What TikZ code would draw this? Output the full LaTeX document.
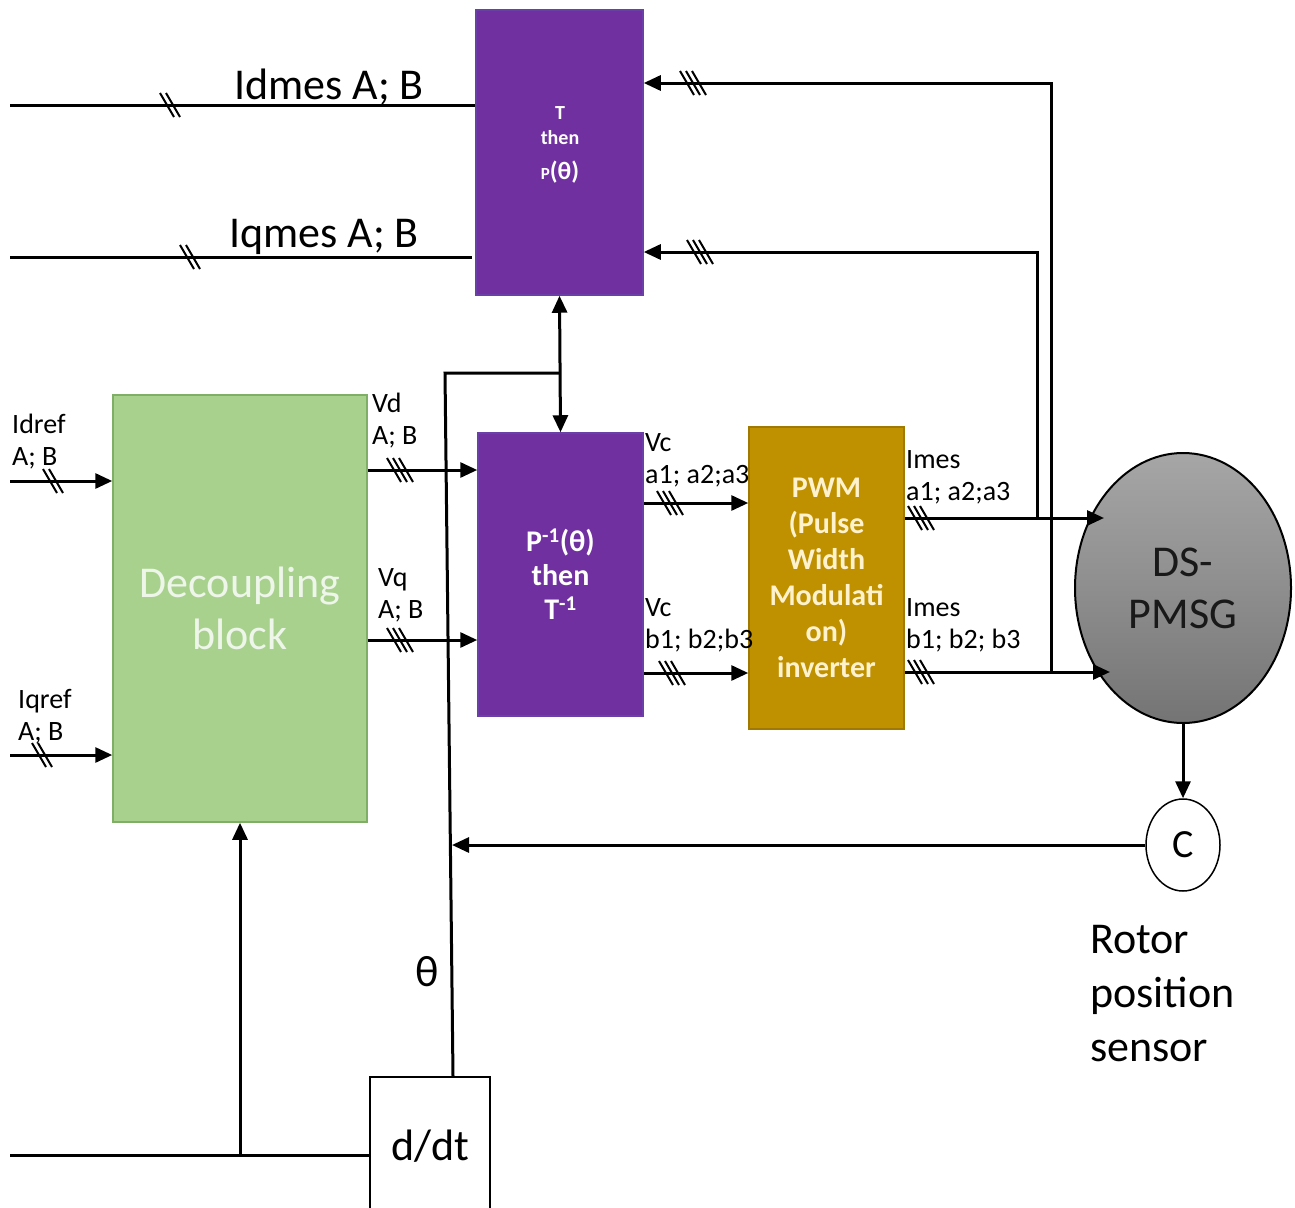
\documentclass[tikz,border=0pt]{standalone}
\usepackage{fontspec}
\setmainfont{Carlito}
\usetikzlibrary{arrows.meta,shapes.geometric,calc}
\definecolor{purp}{HTML}{7030A0}
\definecolor{purpb}{HTML}{6A40A8}
\definecolor{grn}{HTML}{A9D18E}
\definecolor{grnb}{HTML}{7FAE66}
\definecolor{grntxt}{HTML}{EEF6EA}
\definecolor{gold}{HTML}{BF9000}
\definecolor{goldb}{HTML}{A07A00}
\definecolor{goldtxt}{HTML}{FFF2CC}
\definecolor{elltop}{HTML}{A6A6A6}
\definecolor{ellmid}{HTML}{8E8E8E}
\definecolor{ellbot}{HTML}{747474}
\begin{document}
\begin{tikzpicture}[x=1pt,y=-1pt,
  line/.style={line width=3pt},
  arr/.style={line width=3pt,-{Triangle[length=17pt,width=15pt]}},
  darr/.style={line width=3pt,{Triangle[length=17pt,width=15pt]}-{Triangle[length=17pt,width=15pt]}},
  lbl/.style={font=\fontsize{28}{32}\selectfont, align=left, inner sep=0pt, anchor=base west},
  big/.style={font=\fontsize{44}{54}\selectfont, inner sep=0pt},
  blk/.style={draw, line width=1.5pt, inner sep=0pt},
  sl2/.pic={\draw[line width=2pt] (-10,-12)--(4,12) (-4,-12)--(10,12);},
  sl3/.pic={\draw[line width=2pt] (-13,-12)--(1,12) (-7,-12)--(7,12) (-1,-12)--(13,12);},
  ]
\useasboundingbox (0,0) rectangle (1295,1207);

% blocks
\node[blk, draw=purpb, fill=purp, minimum width=167pt, minimum height=285pt] (tb) at (559.5,152.5) {};
\node[text=white, font=\bfseries\fontsize{20}{25}\selectfont, align=center, inner sep=0pt] (tbt) at (560,145)
  {T\\then\\[10pt]{\fontsize{17}{17}\selectfont P}{\fontsize{25}{25}\selectfont(θ)}};
\node[blk, draw=purpb, fill=purp, minimum width=165pt, minimum height=283pt, text=white,
  font=\bfseries\fontsize{30}{34}\selectfont, align=center] (bp) at (560.5,574.5)
  {P\textsuperscript{-1}(θ)\\then\\T\textsuperscript{-1}};
\node[blk, draw=grnb, fill=grn, minimum width=254pt, minimum height=427pt, text=grntxt,
  font=\fontsize{44}{52}\selectfont, align=center] (dec) at (240,608.5) {Decoupling\\block};
\node[blk, draw=goldb, fill=gold, minimum width=155pt, minimum height=302pt, text=goldtxt,
  font=\bfseries\fontsize{30}{36}\selectfont, align=center] (pwm) at (826.5,578)
  {PWM\\(Pulse\\Width\\Modulati\\on)\\inverter};
\node[ellipse, draw, line width=2pt, top color=elltop, bottom color=ellbot, middle color=ellmid,
  minimum width=216pt, minimum height=270pt, inner sep=0pt, text=black!90,
  font=\fontsize{44}{52}\selectfont, align=center] (ds) at (1183,588) {DS-\\PMSG};
\node[ellipse, draw, line width=1.5pt, fill=white, minimum width=74pt, minimum height=92pt, inner sep=0pt,
  font=\fontsize{40}{40}\selectfont] (cc) at (1183,845) {C};
\node[draw, line width=1.8pt, minimum width=120pt, minimum height=138pt, inner sep=0pt,
  font=\fontsize{44}{44}\selectfont] (dd) at (430,1146) {d/dt};

% texts
\node[big, anchor=base] (lidm) at (329,99) {Idmes A; B};
\node[big, anchor=base] (liqm) at (324,247) {Iqmes A; B};
\node[big] (lth) at (427,972) {θ};
\node[big, align=left, anchor=west] (lrot) at (1090,994) {Rotor\\position\\sensor};
\node[lbl] (lidr) at (12,465) {Idref\\A; B};
\node[lbl] (liqr) at (18,740) {Iqref\\A; B};
\node[lbl] (lvd) at (372,444) {Vd\\A; B};
\node[lbl] (lvq) at (378,618) {Vq\\A; B};
\node[lbl] (lva) at (645,483) {Vc\\a1; a2;a3};
\node[lbl] (lvb) at (645,648) {Vc\\b1; b2;b3};
\node[lbl] (lia) at (906,500) {Imes\\a1; a2;a3};
\node[lbl] (lib) at (906,648) {Imes\\b1; b2; b3};

% coordinates
\coordinate (idm) at (10,105);
\coordinate (iqm) at (10,257);
\coordinate (iqe) at (472,257);
\coordinate (in1) at (10,481);
\coordinate (in2) at (10,755);
\coordinate (in3) at (10,1155);
\coordinate (yVd) at (0,470);
\coordinate (yVq) at (0,640);
\coordinate (yVa) at (0,503);
\coordinate (yVb) at (0,673);
\coordinate (ja) at (1037,518);
\coordinate (jb) at (1051,672);
\coordinate (ta) at (1104,518);
\coordinate (tbp) at (1110,672);
\coordinate (th) at (445,373);
\coordinate (tc) at (452,0);
\coordinate (yT1) at (0,83);
\coordinate (yT2) at (0,252);

% connectors
\draw[line] (idm) -- (tb.west |- idm);
\draw[line] (iqm) -- (iqe);
\draw[arr] (jb) |- (tb.east |- yT1);
\draw[arr] (ja) |- (tb.east |- yT2);
\draw[darr] (tb.south) -- (bp.north);
\draw[line] ($(dd.north)+(23,0)$) -- (th) -- (th -| bp.north);
\draw[arr] (in1) -- (dec.west |- in1);
\draw[arr] (in2) -- (dec.west |- in2);
\draw[arr] (dec.east |- yVd) -- (bp.west |- yVd);
\draw[arr] (dec.east |- yVq) -- (bp.west |- yVq);
\draw[arr] (bp.east |- yVa) -- (pwm.west |- yVa);
\draw[arr] (bp.east |- yVb) -- (pwm.west |- yVb);
\draw[arr] (pwm.east |- ja) -- (ta);
\draw[arr] (pwm.east |- jb) -- (tbp);
\draw[arr] (ds.south) -- (cc.north);
\draw[arr] (cc.west) -- (cc.west -| tc);
\draw[line] (in3) -- (dd.west |- in3);
\draw[arr] (dec.south |- in3) -- (dec.south);

% slash marks
\pic at (170,105) {sl2};
\pic at (190,257) {sl2};
\pic at (53,481) {sl2};
\pic at (42,755) {sl2};
\pic at (693,83) {sl3};
\pic at (700,252) {sl3};
\pic at (400,470) {sl3};
\pic at (400,640) {sl3};
\pic at (670,503) {sl3};
\pic at (672,673) {sl3};
\pic at (921,518) {sl3};
\pic at (921,672) {sl3};
\end{tikzpicture}
\end{document}
